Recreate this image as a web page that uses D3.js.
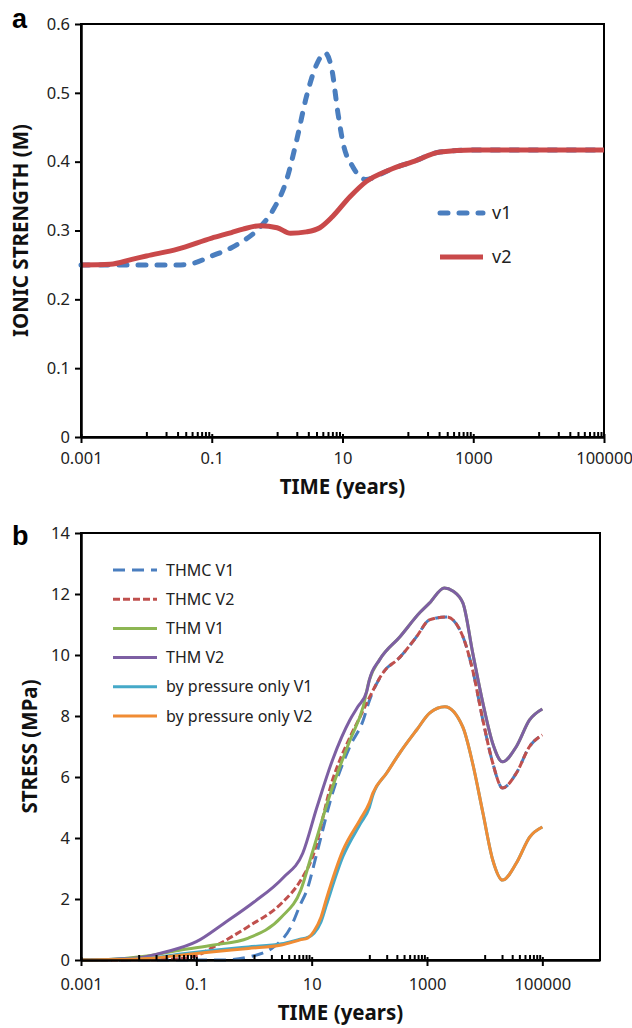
<!DOCTYPE html>
<html>
<head>
<meta charset="utf-8">
<script src="https://cdn.jsdelivr.net/npm/d3@7"></script>
<style>
  body { margin: 0; background: #fff; }
  svg { display: block; font-family: 'Noto Sans', sans-serif; }
</style>
</head>
<body>
<svg width="632" height="1028"></svg>
<script>
// ---- data: [time (years), value] ----
// panel a: ionic strength (M)
const ionicV1 = [[0.001, 0.25], [0.01, 0.25], [0.03, 0.25], [0.05, 0.252], [0.1, 0.263], [0.2, 0.275], [0.27, 0.282],
  [0.55, 0.305], [0.87, 0.33], [1.4, 0.374], [2, 0.432], [2.8, 0.494], [4.1, 0.543], [5.4, 0.558], [6.9, 0.533],
  [8.5, 0.471], [10.2, 0.427], [14.5, 0.392], [23, 0.374], [35, 0.38], [52, 0.388], [120, 0.4], [310, 0.414],
  [1000, 0.417], [100000, 0.417]]
const ionicV2 = [[0.001, 0.25], [0.0028, 0.251], [0.006, 0.258], [0.01, 0.263], [0.03, 0.273], [0.1, 0.289], [0.2, 0.297],
  [0.3, 0.302], [0.55, 0.307], [1, 0.304], [1.6, 0.296], [2.8, 0.298], [4.5, 0.304], [7, 0.32], [13, 0.349],
  [23, 0.371], [52, 0.388], [120, 0.4], [310, 0.414], [1000, 0.417], [100000, 0.417]]

// panel b: stress (MPa)
const thmcV1 = [[0.001, 0], [0.27, 0], [0.8, 0.1], [2.2, 0.43], [4.4, 1.1], [6.3, 1.8], [8.3, 2.3], [12.3, 3.5],
  [23, 5.47], [46, 7.0], [78, 7.85], [100, 8.5], [170, 9.4], [340, 9.93], [660, 10.6], [1100, 11.15], [2200, 11.25],
  [4200, 10.6], [6200, 9.5], [9300, 7.87], [13800, 6.46], [20400, 5.64], [35500, 6.13], [60000, 7.0], [100000, 7.38]]
const thmcV2 = [[0.001, 0], [0.02, 0.01], [0.06, 0.06], [0.1, 0.14], [0.2, 0.43], [0.8, 1.1], [3, 1.86], [6.5, 2.62],
  [10, 3.3], [23, 5.9], [46, 7.3], [69, 7.97], [100, 8.6], [170, 9.4], [340, 9.93], [660, 10.6], [1100, 11.15],
  [2200, 11.25], [4200, 10.6], [6200, 9.5], [9300, 7.87], [13800, 6.46], [20400, 5.64], [35500, 6.13], [60000, 7.0],
  [100000, 7.38]]
const thmV1 = [[0.001, 0], [0.003, 0.02], [0.014, 0.13], [0.054, 0.33], [0.2, 0.49], [0.8, 0.72], [3, 1.41],
  [6.5, 2.3], [10, 3.45], [23, 5.67], [46, 7.2], [78, 8.3], [100, 9.18], [150, 9.84], [340, 10.6], [760, 11.4],
  [1100, 11.7], [2000, 12.2], [2800, 12.1], [4200, 11.7], [6200, 10.07], [9300, 8.43], [13800, 7.1], [20400, 6.5],
  [35500, 7.0], [60000, 7.87], [100000, 8.23]]
const thmV2 = [[0.001, 0], [0.003, 0.02], [0.01, 0.07], [0.03, 0.27], [0.1, 0.6], [0.3, 1.2], [1, 1.9], [3.2, 2.7],
  [7, 3.5], [12.3, 5.0], [23, 6.56], [46, 7.87], [63, 8.3], [90, 8.8], [100, 9.18], [150, 9.84], [340, 10.6],
  [760, 11.4], [1100, 11.7], [2000, 12.2], [2800, 12.1], [4200, 11.7], [6200, 10.07], [9300, 8.43], [13800, 7.1],
  [20400, 6.5], [35500, 7.0], [60000, 7.87], [100000, 8.23]]
const pressureV1 = [[0.001, 0], [0.0145, 0.06], [0.054, 0.2], [0.2, 0.32], [0.8, 0.43], [3, 0.53], [6.3, 0.68],
  [8.5, 0.74], [11, 0.88], [14.5, 1.25], [18, 1.8], [35, 3.4], [69, 4.45], [100, 5.0], [115, 5.4], [200, 6.13],
  [340, 6.8], [660, 7.54], [1120, 8.1], [2040, 8.3], [4170, 7.64], [6170, 6.46], [9330, 4.82], [13800, 3.28],
  [20400, 2.62], [35500, 3.18], [60300, 4.03], [100000, 4.36]]
const pressureV2 = [[0.001, 0], [0.0145, 0.05], [0.054, 0.16], [0.2, 0.27], [0.8, 0.38], [3, 0.49], [6.3, 0.66],
  [8.5, 0.72], [11, 0.95], [14.5, 1.4], [18, 2.0], [35, 3.6], [69, 4.6], [100, 5.15], [115, 5.47], [200, 6.13],
  [340, 6.8], [660, 7.54], [1120, 8.1], [2040, 8.3], [4170, 7.64], [6170, 6.46], [9330, 4.82], [13800, 3.28],
  [20400, 2.62], [35500, 3.18], [60300, 4.03], [100000, 4.36]]

// ticks
const timeTicks = [0.001, 0.1, 10, 1000, 100000]
const timeTickLabels = ['0.001', '0.1', '10', '1000', '100000']
const ionicTicks = [0, 0.1, 0.2, 0.3, 0.4, 0.5, 0.6]
const ionicTickLabels = ['0', '0.1', '0.2', '0.3', '0.4', '0.5', '0.6']
const stressTicks = [0, 2, 4, 6, 8, 10, 12, 14]

const svg = d3.select('svg')

// excel-style log axis (base 100): minor ticks at 1..9 x 10^(k+1) inside each major step
const minorTicks = (lo, hi) => {
  const t = []
  for (let e = Math.round(Math.log10(lo)) + 1; e < Math.log10(hi); e += 2) {
    for (let m = 1; m <= 9; m++) t.push(m * Math.pow(10, e))
  }
  return t
}

function drawPanel (p) {
  const x = d3.scaleLog().domain(p.xDomain).range([p.left, p.right])
  const y = d3.scaleLinear().domain(p.yDomain).range([p.bottom, p.top])
  const g = svg.append('g')

  // frame
  g.append('rect')
    .attr('x', p.left).attr('y', p.top)
    .attr('width', p.right - p.left).attr('height', p.bottom - p.top)
    .attr('fill', 'none').attr('stroke', '#000').attr('stroke-width', 2)

  const line = d3.line()
    .x(d => x(d[0]))
    .y(d => y(d[1]))
    .curve(d3.curveMonotoneX)

  p.series.forEach(s => {
    g.append('path')
      .datum(s.data)
      .attr('fill', 'none')
      .attr('stroke', s.color)
      .attr('stroke-width', s.width)
      .attr('stroke-dasharray', s.dash || null)
      .attr('stroke-linecap', s.cap || 'butt')
      .attr('stroke-linejoin', 'round')
      .attr('d', line)
  })

  // x axis: major ticks crossing, minor ticks inside
  const xAxis = g.append('g')
    .attr('transform', `translate(0,${p.bottom})`)
    .call(d3.axisBottom(x).tickValues(timeTicks).tickFormat((d, i) => timeTickLabels[i])
      .tickSizeInner(6).tickSizeOuter(0).tickPadding(p.xPad))
  g.append('g')
    .attr('transform', `translate(0,${p.bottom})`)
    .call(d3.axisTop(x).tickValues(timeTicks).tickFormat('').tickSizeInner(3).tickSizeOuter(0))
    .call(a => a.select('.domain').remove())
  g.append('g')
    .attr('transform', `translate(0,${p.bottom})`)
    .call(d3.axisTop(x).tickValues(minorTicks(p.xDomain[0], p.xDomain[1])).tickFormat('').tickSizeInner(5).tickSizeOuter(0))
    .call(a => a.select('.domain').remove())

  const yAxis = g.append('g')
    .attr('transform', `translate(${p.left},0)`)
    .call(d3.axisLeft(y).tickValues(p.yTicks).tickFormat((d, i) => p.yLabels[i])
      .tickSizeInner(6).tickSizeOuter(0).tickPadding(5))

  g.selectAll('.tick line').attr('stroke', '#000').attr('stroke-width', 2)
  ;[xAxis, yAxis].forEach(a => {
    a.select('.domain').attr('stroke', '#000').attr('stroke-width', 2.5)
    a.selectAll('text').attr('font-size', 16.5).attr('fill', '#222').attr('font-family', "'Noto Sans', sans-serif")
  })

  // titles
  g.append('text')
    .attr('x', (p.left + p.right) / 2).attr('y', p.xTitleY)
    .attr('text-anchor', 'middle').attr('font-weight', 'bold').attr('font-size', 20.5).attr('fill', '#111')
    .text('TIME (years)')
  g.append('text')
    .attr('transform', `translate(${p.yTitleX},${(p.top + p.bottom) / 2}) rotate(-90)`)
    .attr('text-anchor', 'middle').attr('font-weight', 'bold').attr('font-size', 20.5).attr('fill', '#111')
    .text(p.yTitle)
  g.append('text')
    .attr('x', 12).attr('y', p.tagY)
    .attr('font-weight', 'bold').attr('font-size', 27).attr('fill', '#000')
    .attr('font-family', "'Liberation Sans', Arial, sans-serif")
    .text(p.tag)

  // legend
  p.series.forEach((s, i) => {
    const ly = p.legend.y + i * p.legend.step
    g.append('line')
      .attr('x1', p.legend.x).attr('x2', p.legend.x + p.legend.len)
      .attr('y1', ly).attr('y2', ly)
      .attr('stroke', s.color).attr('stroke-width', s.width)
      .attr('stroke-dasharray', s.dash || null)
      .attr('stroke-linecap', s.cap || 'butt')
    g.append('text')
      .attr('x', p.legend.x + p.legend.len + p.legend.gap).attr('y', ly)
      .attr('dy', '0.35em').attr('font-size', p.legend.size).attr('fill', '#222')
      .text(s.name)
  })
}

drawPanel({
  tag: 'a', tagY: 28,
  left: 81, right: 604, top: 24, bottom: 437,
  xDomain: [0.001, 100000], yDomain: [0, 0.6],
  yTicks: ionicTicks, yLabels: ionicTickLabels,
  xPad: 9, xTitleY: 494, yTitleX: 28,
  yTitle: 'IONIC STRENGTH (M)',
  legend: { x: 440, y: 213, step: 44, len: 43, gap: 9, size: 18 },
  series: [
    { name: 'v1', data: ionicV1, color: '#4a7ebf', width: 5, dash: '8,11', cap: 'round' },
    { name: 'v2', data: ionicV2, color: '#c9494a', width: 5 }
  ]
})

drawPanel({
  tag: 'b', tagY: 545,
  left: 81, right: 600, top: 533, bottom: 960,
  xDomain: [0.001, 1000000], yDomain: [0, 14],
  yTicks: stressTicks, yLabels: stressTicks.map(String),
  xPad: 12, xTitleY: 1020, yTitleX: 37,
  yTitle: 'STRESS (MPa)',
  legend: { x: 113, y: 570, step: 29.2, len: 44, gap: 9, size: 16 },
  series: [
    { name: 'THMC V1', data: thmcV1, color: '#4a7ebf', width: 3, dash: '12,7' },
    { name: 'THMC V2', data: thmcV2, color: '#c0504d', width: 3, dash: '7,3' },
    { name: 'THM V1', data: thmV1, color: '#8db653', width: 3 },
    { name: 'THM V2', data: thmV2, color: '#7d5fa3', width: 3 },
    { name: 'by pressure only V1', data: pressureV1, color: '#45a9c8', width: 3 },
    { name: 'by pressure only V2', data: pressureV2, color: '#f08c34', width: 3 }
  ]
})
</script>
</body>
</html>
